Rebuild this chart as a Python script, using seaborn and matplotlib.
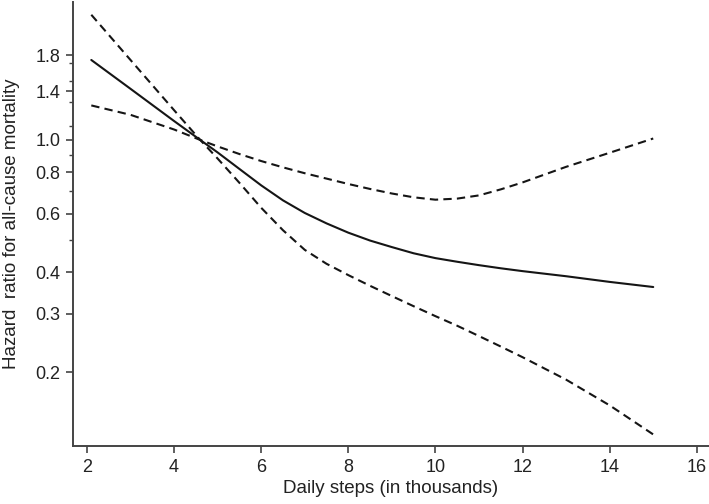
import numpy as np
import pandas as pd
import matplotlib
matplotlib.use("Agg")
import matplotlib.pyplot as plt
from matplotlib.ticker import FixedLocator, NullFormatter, FixedFormatter
import seaborn as sns

# ── data ─────────────────────────────────────────────────────────
steps = [2.1, 3, 4, 4.6, 5, 5.5, 6, 6.5, 7, 7.5, 8, 8.5, 9, 9.5, 10,
         10.5, 11, 11.5, 12, 13, 14, 15]
hr = [1.74, 1.425, 1.14, 1.0, 0.917, 0.818, 0.73, 0.658, 0.603, 0.561,
      0.526, 0.498, 0.476, 0.456, 0.441, 0.43, 0.42, 0.411, 0.403, 0.389,
      0.374, 0.361]
# confidence band that is steep (upper before reference, lower after)
ci_steep = [2.38, 1.74, 1.229, 1.0, 0.879, 0.743, 0.625, 0.535, 0.467,
            0.424, 0.392, 0.364, 0.339, 0.316, 0.295, 0.276, 0.257, 0.239,
            0.222, 0.190, 0.159, 0.130]
# confidence band that is flat (lower before reference, upper after)
ci_flat = [1.27, 1.19, 1.075, 1.0, 0.956, 0.907, 0.864, 0.827, 0.794,
           0.765, 0.737, 0.712, 0.69, 0.672, 0.661, 0.666, 0.681, 0.71,
           0.745, 0.830, 0.915, 1.01]

y_major = [0.2, 0.3, 0.4, 0.6, 0.8, 1.0, 1.4, 1.8]
y_major_labels = ["0.2", "0.3", "0.4", "0.6", "0.8", "1.0", "1.4", "1.8"]
y_minor = [0.5, 0.7, 0.9, 1.1, 1.3, 1.5, 1.7]
x_ticks = [2, 4, 6, 8, 10, 12, 14, 16]

df = pd.DataFrame({"steps": steps, "hr": hr,
                   "ci_steep": ci_steep, "ci_flat": ci_flat})

# ── style ────────────────────────────────────────────────────────
sns.set_style("ticks")
plt.rcParams["font.family"] = ["Liberation Sans", "DejaVu Sans"]

fig = plt.figure(figsize=(7.09, 5.04), dpi=100)
ax = fig.add_axes([73 / 709, 58 / 504, 636 / 709, 444 / 504])

line_col = "#151515"
sns.lineplot(data=df, x="steps", y="hr", ax=ax, color=line_col, lw=1.5)
for col in ["ci_steep", "ci_flat"]:
    sns.lineplot(data=df, x="steps", y=col, ax=ax, color=line_col, lw=1.5,
                 dashes=False, linestyle=(0, (4.0, 2.5)))

ax.set_yscale("log")
ax.set_xlim(1.68, 16.28)
ax.set_ylim(0.12, 2.6)

ax.yaxis.set_major_locator(FixedLocator(y_major))
ax.yaxis.set_major_formatter(FixedFormatter(y_major_labels))
ax.yaxis.set_minor_locator(FixedLocator(y_minor))
ax.yaxis.set_minor_formatter(NullFormatter())
ax.set_xticks(x_ticks)
ax.set_xticklabels([str(t) for t in x_ticks])

spine_col = "#444444"
sns.despine(ax=ax)
for s in ["left", "bottom"]:
    ax.spines[s].set_color(spine_col)
    ax.spines[s].set_linewidth(1.4)

ax.tick_params(axis="both", which="major", length=5, width=1.2,
               color=spine_col, labelsize=13, labelcolor="#222222", pad=4)
ax.tick_params(axis="y", which="minor", length=3, width=1.0, color=spine_col)

ax.set_xlabel("Daily steps (in thousands)", fontsize=13.5, color="#222222",
              labelpad=3)
ax.set_ylabel("Hazard  ratio for all-cause mortality", fontsize=13.5,
              color="#222222", labelpad=11)

plt.savefig("out.png", dpi=100)
